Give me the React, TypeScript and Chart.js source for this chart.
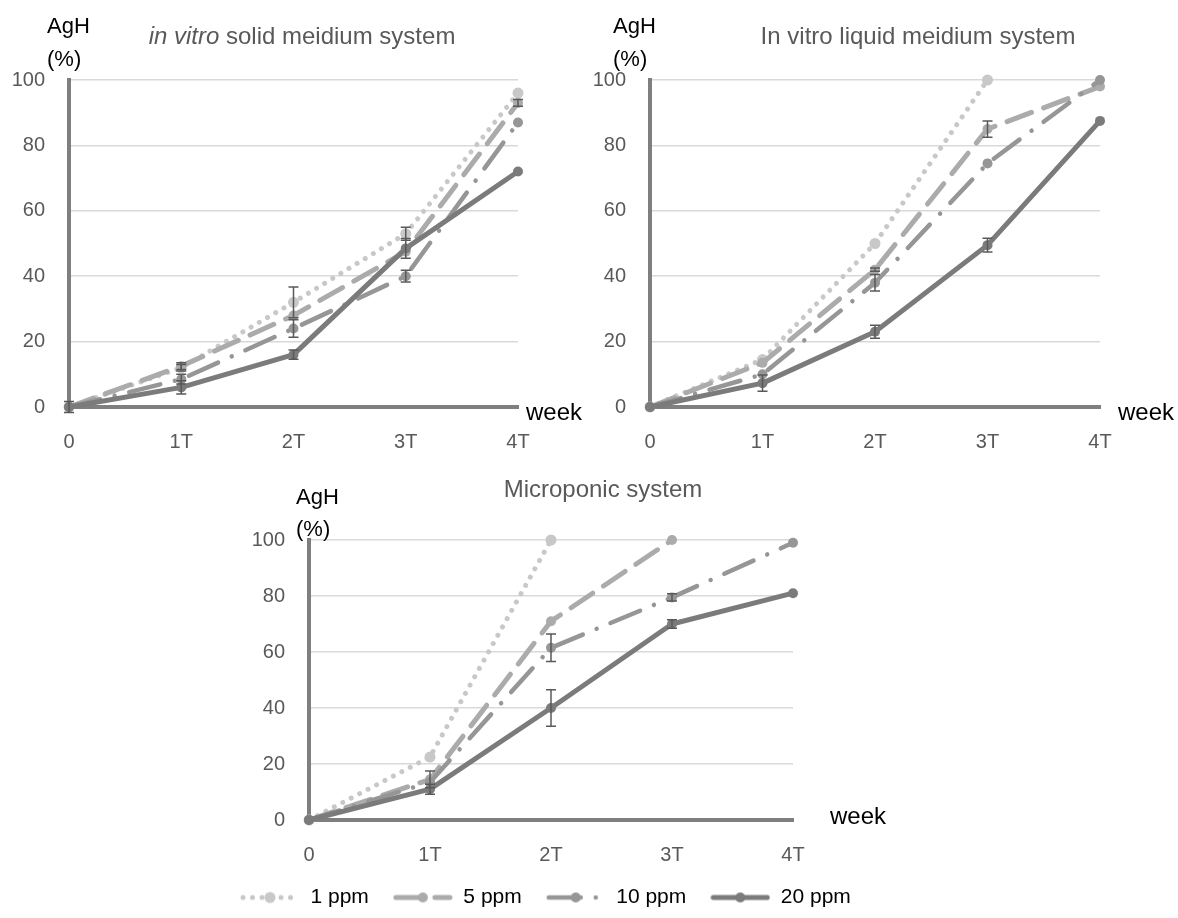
import React, { useEffect, useRef } from 'react';
import { Chart, registerables } from 'chart.js';

Chart.register(...registerables);

// ---------- data ----------
const weeks = ['0', '1T', '2T', '3T', '4T'];
const seriesLabels = ['1 ppm', '5 ppm', '10 ppm', '20 ppm'];

// in vitro solid medium system
const solid1 = [0, 12, 32, 53, 96];
const solid5 = [0, 12.5, 28, 47.5, 93];
const solid10 = [0, 8.5, 24, 40, 87];
const solid20 = [0, 6, 16, 48.5, 72];
const solidErr1 = [1.7, 1, 4.7, 2, 0];
const solidErr5 = [0, 1, 0, 0, 1];
const solidErr10 = [0, 1.5, 2.7, 1.8, 0];
const solidErr20 = [0, 2, 1.4, 3, 0];

// in vitro liquid medium system
const liquid1 = [0, 14.5, 50, 100, null];
const liquid5 = [0, 13.5, 42, 85, 98];
const liquid10 = [0, 10, 38, 74.5, 100];
const liquid20 = [0, 7.3, 23, 49.5, 87.5];
const liquidErr1 = [0, 0, 0, 0, 0];
const liquidErr5 = [0, 0, 0.5, 2.5, 0];
const liquidErr10 = [0, 0, 2.5, 0, 0];
const liquidErr20 = [0, 2.5, 2, 2.1, 0];

// microponic system
const micro1 = [0, 22.5, 100, null, null];
const micro5 = [0, 14.5, 71, 100, null];
const micro10 = [0, 13.5, 61.5, 79.5, 99];
const micro20 = [0, 11, 40, 70, 81];
const microErr1 = [0, 0, 0, 0, 0];
const microErr5 = [0, 3, 0, 0, 0];
const microErr10 = [0, 0, 4.9, 1.3, 0];
const microErr20 = [0, 1.8, 6.5, 1.5, 0];

const yMin = 0;
const yMax = 100;
const yStep = 20;

// ---------- styles ----------
const FONT = '"Liberation Sans", Arial, Helvetica, sans-serif';
const AXIS = '#7f7f7f';
const TICK = '#595959';

const seriesStyles = [
  { color: '#c8c8c8', width: 5, dash: [0.01, 9.5], radius: 5.5 },
  { color: '#ababab', width: 5, dash: [26, 13], radius: 5 },
  { color: '#969696', width: 4.5, dash: [32, 15, 0.01, 15], radius: 5 },
  { color: '#7b7b7b', width: 5, dash: [] as number[], radius: 5 },
];

type Part = { t: string; italic?: boolean };
type TextItem = { parts: Part[]; x: number; y: number; align: 'left' | 'center'; size: number; color: string };

type PanelSpec = {
  box: { x: number; y: number; w: number; h: number };
  area: { left: number; right: number; top: number; bottom: number };
  data: (number | null)[][];
  errors: number[][];
  texts: TextItem[];
  legend: boolean;
  legendHeight: number;
};

function yLabels(x: number, y1: number, y2: number): TextItem[] {
  return [
    { parts: [{ t: 'AgH' }], x, y: y1, align: 'left', size: 22, color: '#000' },
    { parts: [{ t: '(%)' }], x, y: y2, align: 'left', size: 22, color: '#000' },
  ];
}
function weekLabel(x: number, y: number): TextItem {
  return { parts: [{ t: 'week' }], x, y, align: 'left', size: 24, color: '#000' };
}

const panels: PanelSpec[] = [
  {
    box: { x: 0, y: 0, w: 590, h: 460 },
    area: { left: 69, right: 518, top: 80, bottom: 407 },
    data: [solid1, solid5, solid10, solid20],
    errors: [solidErr1, solidErr5, solidErr10, solidErr20],
    texts: [
      { parts: [{ t: 'in vitro', italic: true }, { t: ' solid meidium system' }], x: 302, y: 37, align: 'center', size: 24, color: TICK },
      ...yLabels(47, 27, 60),
      weekLabel(526, 413),
    ],
    legend: false,
    legendHeight: 0,
  },
  {
    box: { x: 590, y: 0, w: 588, h: 460 },
    area: { left: 650, right: 1100, top: 80, bottom: 407 },
    data: [liquid1, liquid5, liquid10, liquid20],
    errors: [liquidErr1, liquidErr5, liquidErr10, liquidErr20],
    texts: [
      { parts: [{ t: 'In vitro liquid meidium system' }], x: 918, y: 37, align: 'center', size: 24, color: TICK },
      ...yLabels(613, 27, 60),
      weekLabel(1118, 413),
    ],
    legend: false,
    legendHeight: 0,
  },
  {
    box: { x: 216, y: 460, w: 760, h: 458 },
    area: { left: 309, right: 793, top: 540, bottom: 820 },
    data: [micro1, micro5, micro10, micro20],
    errors: [microErr1, microErr5, microErr10, microErr20],
    texts: [
      { parts: [{ t: 'Microponic system' }], x: 603, y: 490, align: 'center', size: 24, color: TICK },
      ...yLabels(296, 498, 530),
      weekLabel(830, 817),
    ],
    legend: true,
    legendHeight: 55,
  },
];

// ---------- plugins ----------
function textPlugin(items: TextItem[], ox: number, oy: number) {
  return {
    id: 'pageText',
    afterDraw(chart: any) {
      const ctx = chart.ctx as CanvasRenderingContext2D;
      ctx.save();
      ctx.textBaseline = 'middle';
      ctx.textAlign = 'left';
      for (const it of items) {
        const fonts = it.parts.map((p) => `${p.italic ? 'italic ' : ''}${it.size}px ${FONT}`);
        const widths = it.parts.map((p, i) => {
          ctx.font = fonts[i];
          return ctx.measureText(p.t).width;
        });
        const total = widths.reduce((a, b) => a + b, 0);
        let x = (it.align === 'center' ? it.x - total / 2 : it.x) - ox;
        it.parts.forEach((p, i) => {
          ctx.font = fonts[i];
          ctx.fillStyle = it.color;
          ctx.fillText(p.t, x, it.y - oy);
          x += widths[i];
        });
      }
      ctx.restore();
    },
  };
}

const errorBarPlugin = {
  id: 'errorBars',
  afterDatasetsDraw(chart: any) {
    const ctx = chart.ctx as CanvasRenderingContext2D;
    const yScale = chart.scales.y;
    ctx.save();
    ctx.strokeStyle = '#595959';
    ctx.lineWidth = 1.5;
    chart.data.datasets.forEach((ds: any, di: number) => {
      const meta = chart.getDatasetMeta(di);
      (ds.errors || []).forEach((e: number, i: number) => {
        const v = ds.data[i];
        if (!e || v == null) return;
        const pt = meta.data[i];
        if (!pt) return;
        const x = pt.x;
        const yt = yScale.getPixelForValue(v + e);
        const yb = yScale.getPixelForValue(v - e);
        ctx.beginPath();
        ctx.moveTo(x, yt);
        ctx.lineTo(x, yb);
        ctx.moveTo(x - 5, yt);
        ctx.lineTo(x + 5, yt);
        ctx.moveTo(x - 5, yb);
        ctx.lineTo(x + 5, yb);
        ctx.stroke();
      });
    });
    ctx.restore();
  },
};

function makeSymbol(s: (typeof seriesStyles)[number]): HTMLCanvasElement {
  const c = document.createElement('canvas');
  c.width = 60;
  c.height = 14;
  const g = c.getContext('2d')!;
  g.strokeStyle = s.color;
  g.lineWidth = s.width;
  g.lineCap = 'round';
  g.setLineDash(s.dash);
  g.beginPath();
  g.moveTo(3, 7);
  g.lineTo(57, 7);
  g.stroke();
  g.setLineDash([]);
  g.fillStyle = s.color;
  g.beginPath();
  g.arc(30, 7, s.radius, 0, Math.PI * 2);
  g.fill();
  return c;
}

function buildConfig(p: PanelSpec): any {
  const yAxisWidth = p.area.left - p.box.x;
  const rightSpace = p.box.x + p.box.w - p.area.right;
  const padTop = p.area.top - p.box.y;
  const padBottom = 0;
  const xAxisHeight = p.box.y + p.box.h - p.area.bottom - p.legendHeight - padBottom;
  const symbols = seriesStyles.map(makeSymbol);

  const datasets = p.data.map((d, i) => {
    const s = seriesStyles[i];
    return {
      label: seriesLabels[i],
      data: d,
      errors: p.errors[i],
      yAxisID: 'y',
      borderColor: s.color,
      backgroundColor: s.color,
      borderWidth: s.width,
      borderDash: s.dash,
      borderCapStyle: 'round',
      borderJoinStyle: 'round',
      pointRadius: s.radius,
      pointHoverRadius: s.radius,
      pointBackgroundColor: s.color,
      pointBorderColor: s.color,
      pointBorderWidth: 0,
      tension: 0,
      clip: false,
      order: seriesStyles.length - 1 - i,
    };
  });

  return {
    type: 'line',
    data: { labels: weeks, datasets },
    options: {
      responsive: false,
      animation: false,
      events: [],
      layout: { padding: { left: 0, right: 0, top: padTop, bottom: padBottom } },
      scales: {
        x: {
          type: 'category',
          offset: false,
          grid: { display: false, drawTicks: false },
          border: { display: true, color: AXIS, width: 4 },
          ticks: {
            color: TICK,
            font: { family: FONT, size: 20 },
            padding: 23,
            maxRotation: 0,
            autoSkip: false,
          },
          afterFit: (axis: any) => {
            axis.height = xAxisHeight;
          },
        },
        y: {
          min: yMin,
          max: yMax,
          grid: { color: '#d9d9d9', lineWidth: 1.5, drawTicks: false },
          border: { display: true, color: AXIS, width: 4 },
          ticks: {
            stepSize: yStep,
            color: TICK,
            font: { family: FONT, size: 20 },
            padding: 24,
          },
          afterFit: (axis: any) => {
            axis.width = yAxisWidth;
          },
        },
        // empty right-hand spacer that reserves the room for the "week" label
        spacer: {
          type: 'linear',
          position: 'right',
          display: true,
          min: 0,
          max: 1,
          grid: { display: false, drawTicks: false },
          border: { display: false },
          ticks: { display: false },
          afterFit: (axis: any) => {
            axis.width = rightSpace;
          },
        },
      },
      plugins: {
        title: { display: false },
        tooltip: { enabled: false },
        legend: p.legend
          ? {
              display: true,
              position: 'bottom',
              align: 'start',
              labels: {
                usePointStyle: true,
                pointStyleWidth: 60,
                padding: 24,
                color: '#000',
                font: { family: FONT, size: 21 },
                generateLabels: (chart: any) =>
                  chart.data.datasets.map((ds: any, i: number) => ({
                    text: ds.label,
                    pointStyle: symbols[i],
                    datasetIndex: i,
                    hidden: false,
                    fontColor: '#000',
                    lineWidth: 0,
                    strokeStyle: 'rgba(0,0,0,0)',
                    fillStyle: 'rgba(0,0,0,0)',
                  })),
              },
            }
          : { display: false },
      },
    },
    plugins: [errorBarPlugin, textPlugin(p.texts, p.box.x, p.box.y)],
  };
}

function Panel({ spec }: { spec: PanelSpec }) {
  const ref = useRef<HTMLCanvasElement>(null);
  useEffect(() => {
    if (!ref.current) return;
    const chart = new Chart(ref.current, buildConfig(spec));
    return () => chart.destroy();
  }, [spec]);
  return (
    <canvas
      ref={ref}
      width={spec.box.w}
      height={spec.box.h}
      style={{
        position: 'absolute',
        left: spec.box.x,
        top: spec.box.y,
        width: spec.box.w,
        height: spec.box.h,
      }}
    />
  );
}

export default function App() {
  return (
    <div
      style={{
        position: 'absolute',
        left: 0,
        top: 0,
        width: 1178,
        height: 918,
        background: '#fff',
        overflow: 'hidden',
      }}
    >
      {panels.map((p, i) => (
        <Panel key={i} spec={p} />
      ))}
    </div>
  );
}
